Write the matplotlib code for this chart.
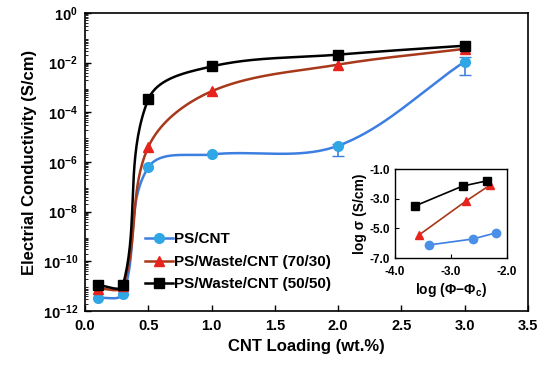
import numpy as np
import matplotlib
matplotlib.use('Agg')
import matplotlib.pyplot as plt
from matplotlib.ticker import FuncFormatter, LogLocator, NullFormatter

plt.rcParams['font.family'] = 'Liberation Sans'
plt.rcParams['font.weight'] = 'bold'
plt.rcParams['mathtext.fontset'] = 'custom'
plt.rcParams['mathtext.rm'] = 'Liberation Sans:bold'
plt.rcParams['mathtext.bf'] = 'Liberation Sans:bold'
plt.rcParams['mathtext.it'] = 'Liberation Sans:bold'
plt.rcParams['axes.unicode_minus'] = False

# Main data
loading = [0.1, 0.3, 0.5, 1.0, 2.0, 3.0]
ps_cnt = [3.3e-12, 5e-12, 6e-7, 2e-6, 4.5e-6, 1.1e-2]
ps_cnt_lo = [3.3e-12, 5e-12, 6e-7, 2e-6, 1.7e-6, 3.3e-3]
ps_cnt_hi = [3.3e-12, 5e-12, 6e-7, 2e-6, 5.5e-6, 1.7e-2]
ps_w70 = [8e-12, 1e-11, 4e-6, 7e-4, 8.3e-3, 3.6e-2]
ps_w50 = [1.1e-11, 1.1e-11, 3.3e-4, 7e-3, 2.1e-2, 4.8e-2]
labels = ['PS/CNT', 'PS/Waste/CNT (70/30)', 'PS/Waste/CNT (50/50)']

# Inset data
in_x_cnt = [-3.39, -2.61, -2.20]
in_y_cnt = [-6.12, -5.72, -5.31]
in_x_w70 = [-3.57, -2.73, -2.30]
in_y_w70 = [-5.45, -3.16, -2.08]
in_x_w50 = [-3.64, -2.79, -2.36]
in_y_w50 = [-3.49, -2.15, -1.80]


def smooth(xs, ys, sx=126.6, sy=25.0, n=40):
    # smoothed line drawn as bezier segments in screen-like units
    p = np.column_stack([np.asarray(xs) * sx, np.log10(ys) * sy])
    m = len(p)
    tang = []
    for i in range(m):
        a = p[max(i - 1, 0)]
        d = p[min(i + 1, m - 1)]
        v = d - a
        tang.append(v / np.linalg.norm(v))
    pts = []
    for i in range(m - 1):
        b, c = p[i], p[i + 1]
        L = np.linalg.norm(c - b) / 3
        c1 = b + tang[i] * L
        c2 = c - tang[i + 1] * L
        t = np.linspace(0, 1, n)[:, None]
        seg = ((1 - t) ** 3 * b + 3 * (1 - t) ** 2 * t * c1
               + 3 * (1 - t) * t ** 2 * c2 + t ** 3 * c)
        pts.append(seg)
    pts = np.vstack(pts)
    return pts[:, 0] / sx, 10 ** (pts[:, 1] / sy)


fig = plt.figure(figsize=(5.5, 3.7), dpi=100)
ax = fig.add_axes([0.1545, 0.1595, 0.8055, 0.8055])

series = [
    (ps_cnt, 'o', '#2FA6E6', '#3D7FE0', 7),
    (ps_w70, '^', '#E8231C', '#A8381A', 7),
    (ps_w50, 's', '#000000', '#000000', 7),
]
for (vals, mk, mc, lc, ms), lab in zip(series, labels):
    sx, sy = smooth(loading, vals)
    ax.plot(sx, sy, color=lc, lw=1.8, zorder=2)
    ax.plot(loading, vals, ls='none', marker=mk, color=mc, ms=ms, zorder=3)
    ax.plot([], [], color=lc, lw=1.8, marker=mk, mfc=mc, mec=mc, ms=ms,
            label=lab)

err = [np.array(ps_cnt) - np.array(ps_cnt_lo),
       np.array(ps_cnt_hi) - np.array(ps_cnt)]
ax.errorbar(loading[4:], ps_cnt[4:], yerr=[err[0][4:], err[1][4:]],
            fmt='none', ecolor='#3D7FE0', elinewidth=1.2, capsize=4, zorder=2)

ax.set_yscale('log')
ax.set_xlim(0, 3.5)
ax.set_ylim(1e-12, 1)
ax.set_xticks(np.arange(0, 3.51, 0.5))
ax.xaxis.set_major_formatter(FuncFormatter(lambda v, p: f'{v:.1f}'))
ax.set_yticks([10.0 ** k for k in range(-12, 1, 2)])
ax.yaxis.set_major_formatter(
    FuncFormatter(lambda v, p: r'$10^{%d}$' % round(np.log10(v))))
ax.yaxis.set_minor_locator(LogLocator(base=10, subs=np.arange(2, 10),
                                      numticks=20))
ax.yaxis.set_minor_formatter(NullFormatter())
ax.tick_params(axis='both', direction='in', labelsize=10.5, width=1.0)
ax.tick_params(axis='y', which='minor', direction='in', length=2)
ax.tick_params(axis='x', which='major', length=4, pad=6)
ax.tick_params(axis='y', which='major', length=4, pad=5)
for s in ax.spines.values():
    s.set_linewidth(1.2)
ax.set_xlabel('CNT Loading (wt.%)', fontsize=12, fontweight='bold')
ax.set_ylabel('Electrial Conductivity (S/cm)', fontsize=12,
              fontweight='bold')
ax.legend(loc='lower left', bbox_to_anchor=(0.105, 0.02), frameon=False,
          fontsize=11, handlelength=1.8, handletextpad=0.1,
          labelspacing=0.55)

# Inset
ins = fig.add_axes([0.718, 0.3027, 0.2036, 0.2405])
ins.plot(in_x_cnt, in_y_cnt, color='#3D7FE0', lw=1.2, marker='o',
         mfc='#4A90E8', mec='#4A90E8', ms=6)
ins.plot(in_x_w70, in_y_w70, color='#A8381A', lw=1.2, marker='^',
         mfc='#E8231C', mec='#E8231C', ms=6)
ins.plot(in_x_w50, in_y_w50, color='#000000', lw=1.2, marker='s',
         mfc='#000000', mec='#000000', ms=6)
ins.set_xlim(-4, -2)
ins.set_ylim(-7, -1)
ins.set_xticks([-4, -3, -2])
ins.set_yticks([-7, -5, -3, -1])
ins.xaxis.set_major_formatter(FuncFormatter(lambda v, p: f'{v:.1f}'))
ins.yaxis.set_major_formatter(FuncFormatter(lambda v, p: f'{v:.1f}'))
ins.tick_params(axis='both', direction='in', labelsize=8.5, length=3)
ins.tick_params(axis='x', pad=6)
for s in ins.spines.values():
    s.set_linewidth(1.0)
ins.set_xlabel(r'log ($\Phi$$-$$\Phi_c$)', fontsize=10, fontweight='bold',
               labelpad=2)
ins.set_ylabel('log σ (S/cm)', fontsize=10, fontweight='bold', labelpad=2)

fig.savefig('out.png', dpi=100)
